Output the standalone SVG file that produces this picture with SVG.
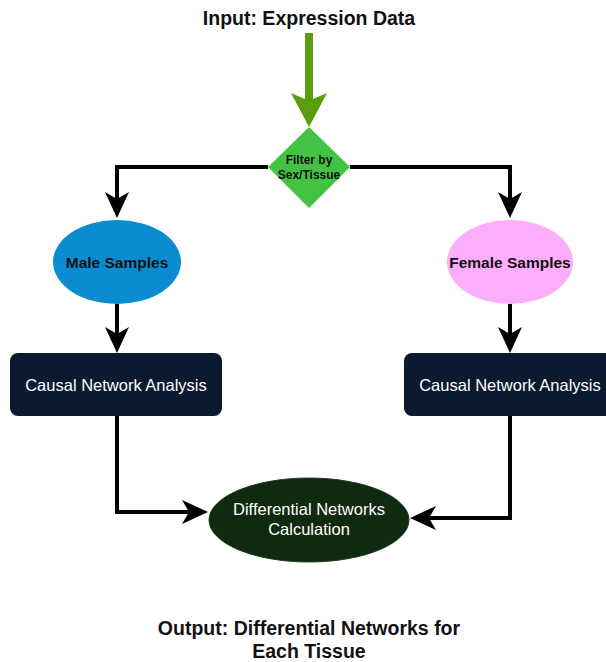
<svg xmlns="http://www.w3.org/2000/svg" width="606" height="662" viewBox="0 0 606 662">
<style>
text{font-family:"Liberation Sans",Arial,sans-serif;text-anchor:middle}
.title{font-size:19.5px;font-weight:bold;fill:#111}
.bold{font-weight:bold;fill:#111}
.white{fill:#fff;font-size:16.5px}
.conn{fill:none;stroke:#000;stroke-width:4}
</style>
<defs>
<marker id="arr" viewBox="0 0 26 24" refX="16" refY="12" markerWidth="26" markerHeight="24" markerUnits="userSpaceOnUse" orient="auto">
<path d="M0,0 L26,12 L0,24 L7,12 Z" fill="#000"/>
</marker>
</defs>
<rect width="606" height="662" fill="#fff"/>
<g id="input">
<text class="title" x="309" y="25">Input: Expression Data</text>
<path d="M305,33 H313 V99 L327,93 L309,127 L291,93 L305,99 Z" fill="#5a9e0f"/>
</g>
<g id="connectors">
<path class="conn" d="M268,167 H117 V208" marker-end="url(#arr)"/>
<path class="conn" d="M350,167 H510 V208" marker-end="url(#arr)"/>
<path class="conn" d="M117,304 V343" marker-end="url(#arr)"/>
<path class="conn" d="M510,304 V343" marker-end="url(#arr)"/>
<path class="conn" d="M117,416 V512 H198" marker-end="url(#arr)"/>
<path class="conn" d="M510,416 V518 H420" marker-end="url(#arr)"/>
</g>
<g id="filter">
<polygon points="309,127 350,167 309,208 268,167" fill="#44c244"/>
<text class="bold" x="309" y="164" font-size="12">Filter by</text>
<text class="bold" x="309" y="179" font-size="12">Sex/Tissue</text>
</g>
<g id="male">
<ellipse cx="117" cy="262" rx="64" ry="42" fill="#0b8bd0"/>
<text class="bold" x="117" y="268" font-size="15.5">Male Samples</text>
</g>
<g id="female">
<ellipse cx="510" cy="262" rx="63" ry="42" fill="#fcaefc"/>
<text class="bold" x="510" y="268" font-size="15.5">Female Samples</text>
</g>
<g id="causal-left">
<rect x="10" y="353" width="212" height="63" rx="8" fill="#0b1a2e"/>
<text class="white" x="116" y="391">Causal Network Analysis</text>
</g>
<g id="causal-right">
<rect x="404" y="353" width="212" height="63" rx="8" fill="#0b1a2e"/>
<text class="white" x="510" y="391">Causal Network Analysis</text>
</g>
<g id="diff">
<ellipse cx="309" cy="520" rx="100" ry="42" fill="#102a10" stroke="#1e3a1e" stroke-width="1"/>
<text class="white" x="309" y="515">Differential Networks</text>
<text class="white" x="309" y="535">Calculation</text>
</g>
<g id="output">
<text class="title" x="309" y="635">Output: Differential Networks for</text>
<text class="title" x="309" y="658">Each Tissue</text>
</g>
</svg>
